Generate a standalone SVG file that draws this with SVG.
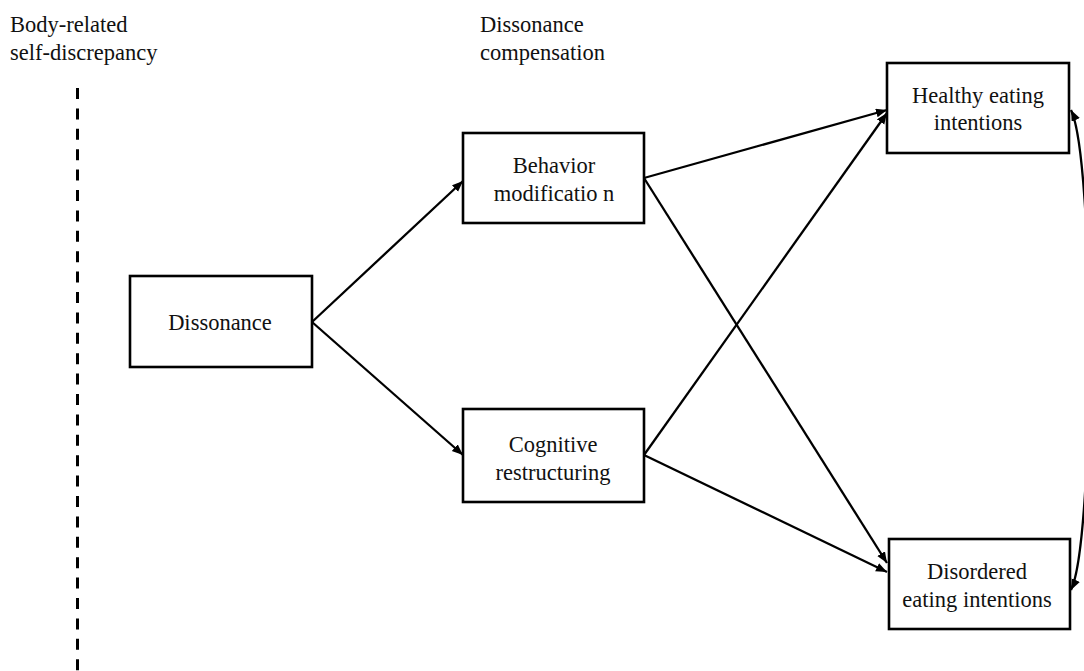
<svg xmlns="http://www.w3.org/2000/svg" width="1084" height="671" viewBox="0 0 1084 671" font-family="'Liberation Serif', 'Times New Roman', Times, serif">
<style>
text{font-family:'Liberation Serif','Times New Roman',Times,serif;font-size:22.5px;fill:#111}
.box{fill:#fff;stroke:#000;stroke-width:2.6}
.c{text-anchor:middle}
.conn{stroke:#000;stroke-width:2.3;fill:none}
</style>
<defs>
<marker id="ah" markerUnits="userSpaceOnUse" markerWidth="12" markerHeight="10" refX="11" refY="4.5" orient="auto-start-reverse">
<path d="M0,0 L11,4.5 L0,9 z" fill="#000"/>
</marker>
</defs>
<rect width="1084" height="671" fill="#fff"/>
<g id="labels">
<text x="10" y="32">Body-related</text>
<text x="10" y="60">self-discrepancy</text>
<text x="480" y="32">Dissonance</text>
<text x="480" y="60">compensation</text>
</g>
<g id="divider">
<line x1="77.5" y1="88" x2="77.5" y2="671" stroke="#000" stroke-width="3" stroke-dasharray="11 9.4"/>
</g>
<g id="connectors" class="conn">
<line x1="312" y1="322" x2="463" y2="181" marker-end="url(#ah)"/>
<line x1="312" y1="322" x2="463" y2="455" marker-end="url(#ah)"/>
<line x1="644" y1="178" x2="887" y2="110" marker-end="url(#ah)"/>
<line x1="644" y1="178" x2="887" y2="563" marker-end="url(#ah)"/>
<line x1="644" y1="455" x2="887" y2="113" marker-end="url(#ah)"/>
<line x1="644" y1="455" x2="887" y2="572" marker-end="url(#ah)"/>
<path d="M1071,110 C1095,160 1095,540 1071,590" marker-start="url(#ah)" marker-end="url(#ah)"/>
</g>
<g id="dissonance">
<rect class="box" x="130" y="276" width="182" height="91"/>
<text class="c" x="220" y="330">Dissonance</text>
</g>
<g id="behavior">
<rect class="box" x="463" y="133" width="181" height="90"/>
<text class="c" x="554" y="173">Behavior</text>
<text class="c" x="554" y="201">modificatio n</text>
</g>
<g id="cognitive">
<rect class="box" x="463" y="409" width="181" height="93"/>
<text class="c" x="553" y="452">Cognitive</text>
<text class="c" x="553" y="480">restructuring</text>
</g>
<g id="healthy">
<rect class="box" x="887" y="63" width="182" height="90"/>
<text class="c" x="978" y="103">Healthy eating</text>
<text class="c" x="978" y="130">intentions</text>
</g>
<g id="disordered">
<rect class="box" x="889" y="539" width="181" height="90"/>
<text class="c" x="977" y="579">Disordered</text>
<text class="c" x="977" y="607">eating intentions</text>
</g>
</svg>
